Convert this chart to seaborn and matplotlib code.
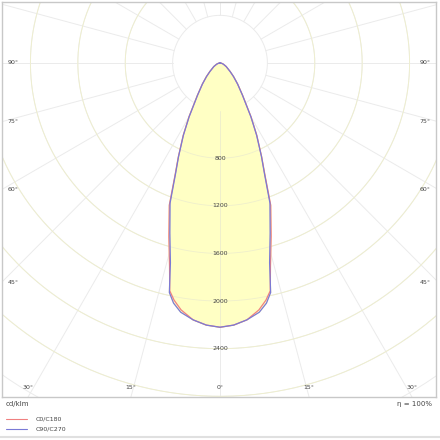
import numpy as np
import matplotlib
matplotlib.use('Agg')
import matplotlib.pyplot as plt
import seaborn as sns

sns.set_style("white")
plt.rcParams['font.family'] = ['DejaVu Sans']

# Светораспределение (cd/klm) по углу гамма
gamma = [0, 3, 6, 9, 11, 12.5, 14, 16.5, 19.7, 22, 24, 27, 30, 35, 40, 45, 50, 60, 70, 80, 90]
c0_c180 = [2220, 2205, 2170, 2100, 2030, 1960, 1760, 1520, 1270, 1010, 865, 685, 525, 333, 232,
           162, 112, 60, 30, 12, 0]
c90_c270 = [2220, 2205, 2170, 2120, 2055, 1975, 1730, 1490, 1250, 1000, 860, 680, 520, 330, 230,
            160, 110, 60, 30, 12, 0]
ring_values = [800, 1200, 1600, 2000, 2400]
angle_labels = [90, 75, 60, 45, 30, 15, 0]

rings = np.arange(400, 6001, 400)
spokes = np.arange(0, 360, 15)


def curve_xy(g, r):
    # симметричная кривая: слева C180/C270, справа C0/C90
    g = np.radians(np.array(g, dtype=float))
    r = np.array(r, dtype=float)
    gg = np.concatenate([-g[::-1], g[1:]])
    rr = np.concatenate([r[::-1], r[1:]])
    return rr * np.sin(gg), -rr * np.cos(gg)


fig = plt.figure(figsize=(4.4, 4.4), dpi=100)
ax = fig.add_axes([2 / 440, 1 - 397 / 440, 434 / 440, 395 / 440])
x0, x1, y0, y1 = -1840, 1823, -2806, 512
ax.set_xlim(x0, x1)
ax.set_ylim(y0, y1)
ax.set_xticks([])
ax.set_yticks([])
for s in ax.spines.values():
    s.set_color('#c8c8c8')
    s.set_linewidth(1)

# сетка
grid_c = '#ebebeb'
t = np.linspace(0, 2 * np.pi, 400)
for rv in rings:
    ax.plot(rv * np.sin(t), rv * np.cos(t), color=grid_c, lw=0.7, zorder=1)
for a in spokes:
    ar = np.radians(a)
    ax.plot([400 * np.sin(ar), 8000 * np.sin(ar)], [-400 * np.cos(ar), -8000 * np.cos(ar)],
            color=grid_c, lw=0.7, zorder=1)

# кривые
xa, ya = curve_xy(gamma, c0_c180)
xb, yb = curve_xy(gamma, c90_c270)
ax.fill(xa, ya, color='#ffffc4', zorder=2)
ax.fill(xb, yb, color='#ffffc4', zorder=2)
for rv in rings[1:7]:
    ax.plot(rv * np.sin(t), rv * np.cos(t), color='#efefcc', lw=0.6, zorder=2.3)
ax.plot([0, 0], [-400, -2220], color='#efefcc', lw=0.7, zorder=2.4)
ax.plot(xa, ya, color='#f08080', lw=0.9, zorder=3)
ax.plot(xb, yb, color='#7a7ad6', lw=0.9, zorder=3)

# подписи колец
for rv in ring_values:
    ax.text(0, -rv, str(rv), fontsize=4.5, color='#444444', ha='center', va='center', zorder=4)

# подписи углов по краям
pad_x, pad_y = 45, 55
for a in angle_labels:
    ar = np.radians(a)
    if a >= 45:
        y = -(-x0) / np.tan(ar) if a != 90 else 0
        ax.text(x0 + pad_x, y, f'{a}°', fontsize=4.5, color='#444444', ha='left', va='center')
        ax.text(x1 - pad_x, y, f'{a}°', fontsize=4.5, color='#444444', ha='right', va='center')
    else:
        x = -y0 * np.tan(ar)
        ax.text(-x, y0 + pad_y, f'{a}°', fontsize=4.5, color='#444444', ha='center', va='bottom')
        if a != 0:
            ax.text(x, y0 + pad_y, f'{a}°', fontsize=4.5, color='#444444', ha='center', va='bottom')

# нижняя часть
fig.text(6 / 440, 1 - 404 / 440, 'cd/klm', fontsize=5, color='#444444', va='center')
fig.text(432 / 440, 1 - 404 / 440, 'η = 100%', fontsize=5, color='#444444', va='center', ha='right')
fig.add_artist(plt.Line2D([6 / 440, 27 / 440], [1 - 419 / 440] * 2, color='#f08080', lw=0.8))
fig.add_artist(plt.Line2D([6 / 440, 27 / 440], [1 - 429 / 440] * 2, color='#7a7ad6', lw=0.8))
fig.text(36 / 440, 1 - 419 / 440, 'C0/C180', fontsize=4.5, color='#444444', va='center')
fig.text(36 / 440, 1 - 429 / 440, 'C90/C270', fontsize=4.5, color='#444444', va='center')
fig.add_artist(plt.Line2D([0, 1], [1 - 437 / 440] * 2, color='#e0e0e0', lw=1.5))

fig.savefig('out.png', dpi=100)
